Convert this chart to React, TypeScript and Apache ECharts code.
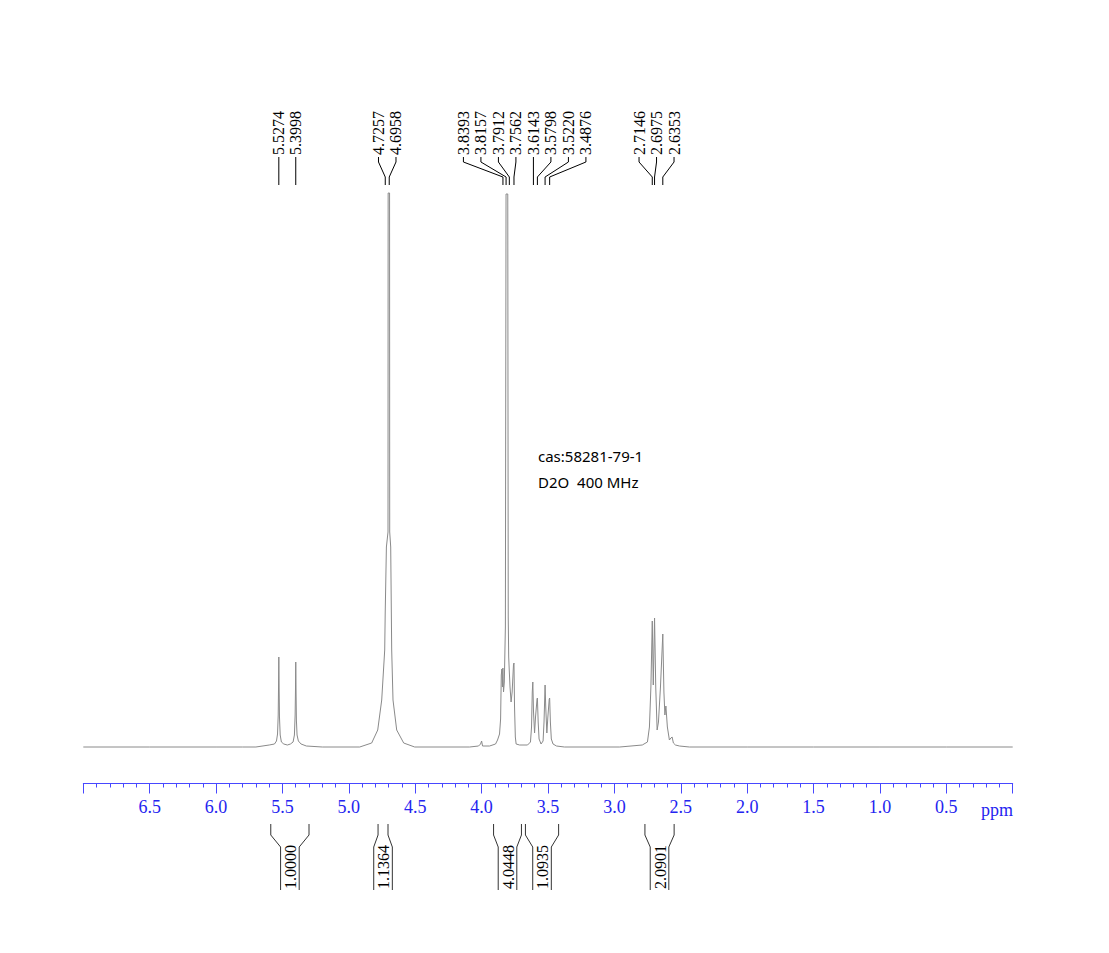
import React, { useEffect, useRef } from "react";
import * as echarts from "echarts";

// ---- axis ----
const PPM_MIN = 0;
const PPM_MAX = 7;
const PPM_STEP = 0.5;

// ---- spectrum (ppm, intensity) ----
const BASELINE_LEFT: [number, number][] = [
  [7.0, 0], [6.5, 0], [6.0, 0], [5.8, 0], [5.7, 0],
];
const REGION_55: [number, number][] = [
  [5.6, 2], [5.56, 3], [5.545, 6], [5.537, 13], [5.532, 32], [5.5295, 60], [5.5274, 90],
  [5.525, 58], [5.5225, 30], [5.517, 12], [5.508, 5], [5.49, 3], [5.463, 2],
  [5.44, 3], [5.42, 5], [5.41, 12], [5.4045, 32], [5.402, 56], [5.3998, 85],
  [5.3975, 54], [5.395, 27], [5.39, 12], [5.38, 6], [5.36, 3], [5.32, 1], [5.2, 0],
];
const REGION_47: [number, number][] = [
  [4.918, 0], [4.828, 4], [4.7825, 17], [4.7524, 47], [4.7299, 97], [4.7261, 134],
  [4.7171, 200], [4.705, 215], [4.704, 554], [4.6932, 554], [4.6922, 215],
  [4.6847, 200], [4.6772, 97], [4.6674, 47], [4.6396, 17], [4.5869, 4], [4.504, 0],
];
const REGION_38: [number, number][] = [
  [4.09, 0], [4.023, 1], [4.008, 3], [4.0, 6], [3.993, 1], [3.94, 1], [3.895, 3],
  [3.88, 7], [3.865, 13], [3.857, 28], [3.8518, 72], [3.8473, 78], [3.843, 60],
  [3.8398, 79], [3.835, 55], [3.829, 65], [3.821, 120], [3.816, 553], [3.803, 553],
  [3.7995, 130], [3.796, 90], [3.7912, 75], [3.786, 60], [3.778, 45], [3.77, 55],
  [3.76, 82], [3.7562, 84], [3.752, 40], [3.746, 10], [3.74, 3], [3.714, 2],
  [3.654, 2], [3.632, 5], [3.624, 20], [3.6185, 55], [3.6143, 65], [3.609, 35],
  [3.6012, 14], [3.594, 30], [3.5824, 48], [3.5798, 49], [3.574, 25], [3.5673, 8],
  [3.5523, 3], [3.537, 6], [3.53, 25], [3.522, 62], [3.517, 40], [3.5087, 14],
  [3.501, 30], [3.4906, 48], [3.4876, 49], [3.482, 25], [3.475, 8], [3.462, 3],
  [3.436, 1], [3.376, 0],
];
const REGION_27: [number, number][] = [
  [2.96, 0], [2.79, 2], [2.751, 5], [2.736, 20], [2.725, 60], [2.7146, 126],
  [2.7071, 62], [2.6975, 129], [2.6885, 60], [2.678, 17], [2.668, 25], [2.653, 60],
  [2.6353, 113], [2.627, 55], [2.6195, 32], [2.612, 41], [2.601, 20], [2.5856, 7],
  [2.5743, 9], [2.5653, 10], [2.5555, 4], [2.54, 2], [2.51, 1], [2.435, 0],
];
const BASELINE_RIGHT: [number, number][] = [
  [2.0, 0], [1.5, 0], [1.0, 0], [0.5, 0], [0.0, 0],
];

// ---- peak picking labels (groups share a fan of connectors) ----
const PEAK_GROUPS: number[][] = [
  [5.5274],
  [5.3998],
  [4.7257, 4.6958],
  [3.8393, 3.8157, 3.7912, 3.7562, 3.6143, 3.5798, 3.522, 3.4876],
  [2.7146, 2.6975, 2.6353],
];

// ---- integrals ----
const INTEGRAL_FROM = [5.588, 4.78, 3.91, 3.67, 2.77];
const INTEGRAL_TO = [5.3, 4.705, 3.7, 3.42, 2.55];
const INTEGRAL_VALUES = ["1.0000", "1.1364", "4.0448", "1.0935", "2.0901"];

// ---- notes ----
const NOTES = ["cas:58281-79-1", "D2O  400 MHz"];

const SERIF = '"Liberation Serif", "Times New Roman", serif';
const BLUE = "#2424f0";

export default function App() {
  const ref = useRef<HTMLDivElement>(null);

  useEffect(() => {
    if (!ref.current) return;
    const chart = echarts.init(ref.current, undefined, { renderer: "svg" });
    const data = [
      ...BASELINE_LEFT,
      ...REGION_55,
      ...REGION_47,
      ...REGION_38,
      ...REGION_27,
      ...BASELINE_RIGHT,
    ];
    const gridTop = 100;
    const gridBottom = 169.5;
    const axisY = 953 - gridBottom;
    const baseY = 747;
    const plotH = 953 - gridTop - gridBottom;
    const yMin = -(axisY - baseY);
    const yMax = plotH + yMin;

    chart.setOption({
      animation: false,
      backgroundColor: "#ffffff",
      grid: { left: 83.3, right: 96.3, top: gridTop, bottom: gridBottom },
      xAxis: {
        type: "value",
        inverse: true,
        min: PPM_MIN,
        max: PPM_MAX,
        interval: PPM_STEP,
        splitLine: { show: false },
        axisLine: { onZero: false, lineStyle: { color: "#4848ff", width: 1 } },
        axisTick: { show: true, length: 10, lineStyle: { color: "#4848ff" } },
        minorTick: { show: true, splitNumber: 5, length: 4, lineStyle: { color: "#4848ff" } },
        axisLabel: {
          color: BLUE,
          fontFamily: SERIF,
          fontSize: 18,
          margin: 14,
          formatter: (v: number) =>
            v <= PPM_MIN + 1e-6 || v >= PPM_MAX - 1e-6 ? "" : v.toFixed(1),
        },
      },
      yAxis: {
        type: "value",
        min: yMin,
        max: yMax,
        show: false,
        splitLine: { show: false },
      },
      series: [
        {
          type: "line",
          data,
          showSymbol: false,
          symbol: "none",
          sampling: undefined,
          lineStyle: { color: "#8a8a8a", width: 1 },
          silent: true,
        },
      ],
    });

    const px = (ppm: number) => chart.convertToPixel({ xAxisIndex: 0 }, ppm) as number;

    const graphics: any[] = [];
    const spacing = 17.5;
    PEAK_GROUPS.forEach((group) => {
      const pxs = group.map(px);
      const mean = pxs.reduce((a, b) => a + b, 0) / pxs.length;
      pxs.forEach((p, i) => {
        const lx = group.length === 1 ? p : mean + (i - (group.length - 1) / 2) * spacing;
        graphics.push({
          type: "text",
          x: lx,
          y: 155,
          rotation: Math.PI / 2,
          style: {
            text: group[i].toFixed(4),
            font: `16px ${SERIF}`,
            fill: "#000",
            align: "left",
            verticalAlign: "middle",
            textAlign: "left",
            textVerticalAlign: "middle",
          },
        });
        if (Math.abs(lx - p) < 0.6) {
          graphics.push({
            type: "line",
            shape: { x1: lx, y1: 157, x2: lx, y2: 185 },
            style: { stroke: "#000", lineWidth: 1 },
          });
        } else {
          graphics.push({
            type: "polyline",
            shape: { points: [[lx, 157], [lx, 162], [p, 177], [p, 185]] },
            style: { stroke: "#000", lineWidth: 1, fill: null },
          });
        }
      });
    });

    INTEGRAL_VALUES.forEach((val, i) => {
      const l = px(INTEGRAL_FROM[i]);
      const r = px(INTEGRAL_TO[i]);
      const c = (l + r) / 2;
      const h = 9.3;
      graphics.push({
        type: "polyline",
        shape: { points: [[l, 824], [l, 835], [c - h, 847], [c - h, 890]] },
        style: { stroke: "#333", lineWidth: 1, fill: null },
      });
      graphics.push({
        type: "polyline",
        shape: { points: [[r, 824], [r, 835], [c + h, 847], [c + h, 890]] },
        style: { stroke: "#333", lineWidth: 1, fill: null },
      });
      graphics.push({
        type: "text",
        x: c + 0.5,
        y: 867,
        rotation: Math.PI / 2,
        style: {
          text: val,
          font: `16px ${SERIF}`,
          fill: "#000",
          align: "center",
          verticalAlign: "middle",
          textAlign: "center",
          textVerticalAlign: "middle",
        },
      });
    });

    NOTES.forEach((t, i) => {
      graphics.push({
        type: "text",
        x: 538,
        y: 456 + i * 26,
        style: {
          text: t,
          font: '15px "Noto Sans", sans-serif',
          fill: "#000",
          align: "left",
          verticalAlign: "middle",
          textAlign: "left",
          textVerticalAlign: "middle",
        },
      });
    });

    graphics.push({
      type: "text",
      x: 1013,
      y: 810,
      style: {
        text: "ppm",
        font: `18px ${SERIF}`,
        fill: BLUE,
        align: "right",
        verticalAlign: "middle",
        textAlign: "right",
        textVerticalAlign: "middle",
      },
    });

    chart.setOption({ graphic: graphics });

    return () => chart.dispose();
  }, []);

  return (
    <div
      ref={ref}
      style={{ position: "fixed", left: 0, top: 0, width: 1109, height: 953, background: "#fff" }}
    />
  );
}
